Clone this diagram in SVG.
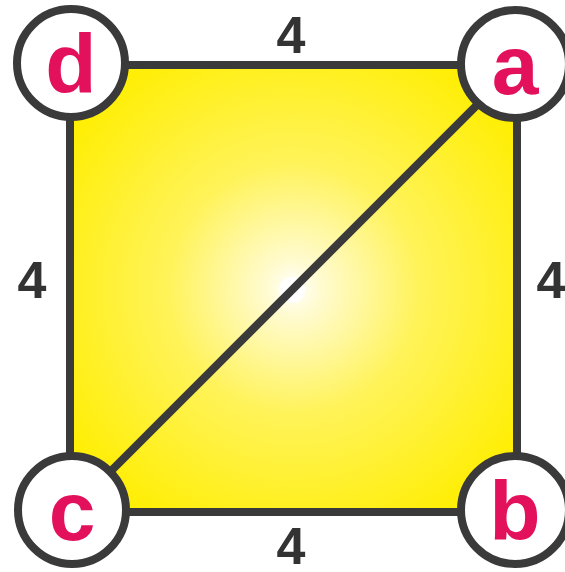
<svg xmlns="http://www.w3.org/2000/svg" width="565" height="572" viewBox="0 0 565 572">
  <defs>
    <radialGradient id="glow" cx="0.5" cy="0.5" r="0.62">
      <stop offset="0" stop-color="#ffffff"/>
      <stop offset="0.1" stop-color="#fffbd0"/>
      <stop offset="0.45" stop-color="#fff35a"/>
      <stop offset="1" stop-color="#ffee00"/>
    </radialGradient>
  </defs>
  <style>
    .edge { stroke: #3a3a3a; stroke-width: 8; fill: none; stroke-linecap: round; }
    .node circle { fill: #ffffff; stroke: #3a3a3a; stroke-width: 8; }
    .node text { font-family: "Liberation Sans", Arial, sans-serif; font-weight: bold; font-size: 84px; fill: #e3105c; text-anchor: middle; }
    .w { font-family: "Liberation Sans", Arial, sans-serif; font-weight: bold; font-size: 52px; fill: #333333; text-anchor: middle; }
  </style>
  <rect x="70" y="65" width="447" height="447" fill="url(#glow)"/>
  <circle cx="292" cy="290" r="13" fill="#ffffff"/>
  <g id="connectors">
    <line class="edge" x1="70" y1="65" x2="517" y2="65"/>
    <line class="edge" x1="517" y1="65" x2="517" y2="512"/>
    <line class="edge" x1="70" y1="512" x2="517" y2="512"/>
    <line class="edge" x1="70" y1="65" x2="70" y2="512"/>
    <line class="edge" x1="517" y1="65" x2="70" y2="512"/>
  </g>
  <g id="labels">
    <text class="w" x="291" y="53">4</text>
    <text class="w" x="32" y="298">4</text>
    <text class="w" x="551" y="298">4</text>
    <text class="w" x="291" y="564">4</text>
  </g>
  <g id="node-d" class="node">
    <circle cx="71" cy="63" r="54"/>
    <text x="71" y="93">d</text>
  </g>
  <g id="node-a" class="node">
    <circle cx="515" cy="64" r="54"/>
    <text x="515" y="94">a</text>
  </g>
  <g id="node-c" class="node">
    <circle cx="72" cy="510" r="54"/>
    <text x="72" y="540">c</text>
  </g>
  <g id="node-b" class="node">
    <circle cx="515" cy="510" r="54"/>
    <text x="515" y="540">b</text>
  </g>
</svg>
